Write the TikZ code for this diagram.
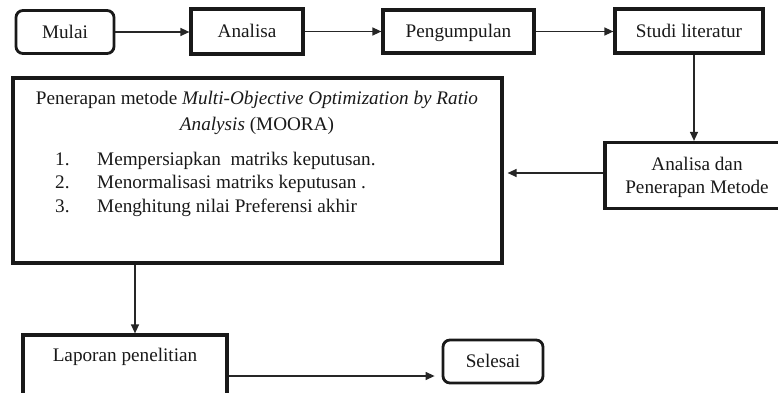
\documentclass[tikz,border=0pt]{standalone}
\usepackage{fontspec}
\setmainfont{Liberation Serif}
\usetikzlibrary{arrows.meta}
\begin{document}
\begin{tikzpicture}[x=1pt,y=-1pt,
  every node/.style={font=\fontsize{19.2}{23}\selectfont, text=black!90},
  box/.style={draw=black!90, line width=3.2pt, inner sep=0pt},
  term/.style={box, rounded corners=7pt, line width=2.8pt},
  lbl/.style={text height=12.6pt, text depth=0pt},
  conn/.style={draw=black!85, line width=1.3pt, -{Triangle[length=9pt,width=8pt]}},
  txt/.style={inner sep=0pt, anchor=base west},
  ctr/.style={inner sep=0pt, anchor=base}]
\useasboundingbox (0,0) rectangle (778,393);
\clip (0,0) rectangle (778,393);
\node[term, lbl, minimum width=98pt, minimum height=43pt] (mulai) at (65,32) {Mulai};
\node[box, lbl, minimum width=112pt, minimum height=45pt] (analisa) at (247,31.5) {Analisa};
\node[box, lbl, minimum width=151pt, minimum height=43pt] (peng) at (458.5,31.5) {Pengumpulan};
\node[box, lbl, minimum width=148pt, minimum height=44pt] (studi) at (689,31) {Studi literatur};
\node[box, minimum width=182pt, minimum height=66pt] (ap) at (696,175.5) {};
\node[ctr] (ap1) at (697,170) {Analisa dan};
\node[ctr] (ap2) at (697,193) {Penerapan Metode};
\node[box, minimum width=489pt, minimum height=185pt] (big) at (257.5,170.5) {};
\node[ctr] (title1) at (257,105) {Penerapan metode \textit{Multi-Objective Optimization by Ratio}};
\node[ctr] (title2) at (257,130) {\textit{Analysis} (MOORA)};
\node[txt] (n1) at (55,165) {1.};
\node[txt] (t1) at (97,165) {Mempersiapkan\ \ matriks keputusan.};
\node[txt] (n2) at (55,188.5) {2.};
\node[txt] (t2) at (97,188.5) {Menormalisasi matriks keputusan .};
\node[txt] (n3) at (55,212) {3.};
\node[txt] (t3) at (97,212) {Menghitung nilai Preferensi akhir};
\node[box, minimum width=204pt, minimum height=70pt] (lap) at (125,370) {};
\node[ctr] (laptxt) at (125,361) {Laporan penelitian};
\node[term, lbl, minimum width=100pt, minimum height=43pt] (sel) at (493,361.5) {Selesai};
\draw[conn] (mulai.east) -- (analisa.west |- mulai.east);
\draw[conn] (analisa.east) -- (peng.west |- analisa.east);
\draw[conn] (peng.east) -- (studi.west |- peng.east);
\draw[conn] ([xshift=5pt]studi.south) -- ([xshift=5pt]studi.south |- ap.north);
\draw[conn, shorten >=4pt] ([yshift=2.5pt]ap.west) -- ([yshift=2.5pt]ap.west -| big.east);
\draw[conn] ([xshift=10pt]lap.north |- big.south) -- ([xshift=10pt]lap.north);
\draw[conn, shorten >=7pt] ([yshift=-6pt]lap.east) -- ([yshift=-6pt]lap.east -| sel.west);
\end{tikzpicture}
\end{document}
